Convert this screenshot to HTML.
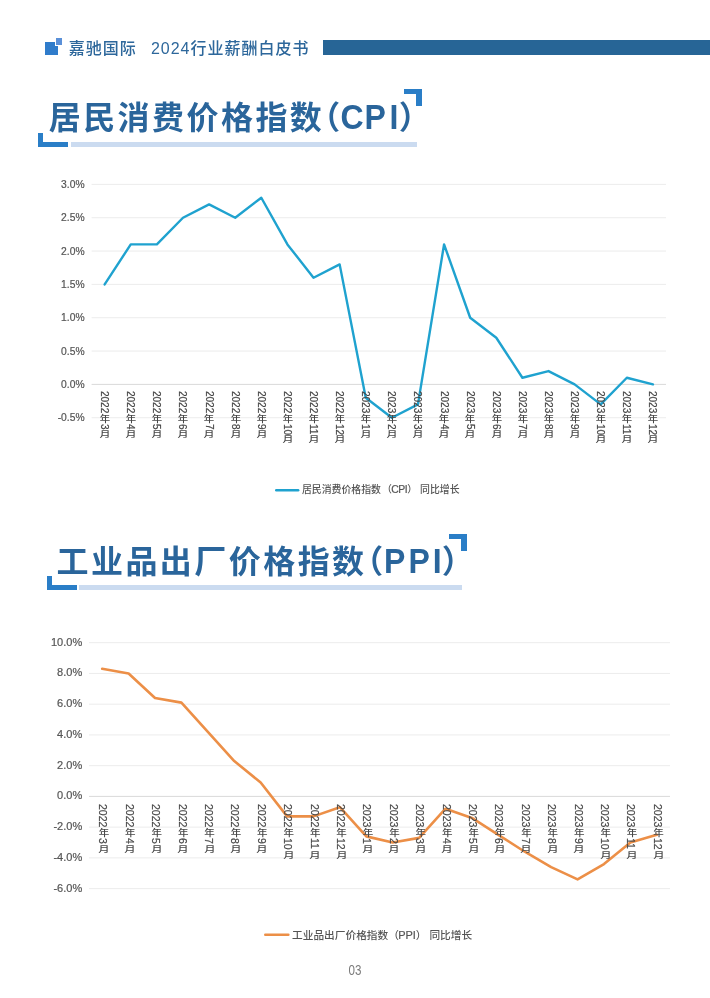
<!DOCTYPE html>
<html lang="zh-CN">
<head>
<meta charset="utf-8">
<title>嘉驰国际 2024行业薪酬白皮书</title>
<style>
*{margin:0;padding:0;box-sizing:border-box}
html,body{width:710px;height:998px;background:#fff;overflow:hidden}
body{position:relative;font-family:"Liberation Sans","Noto Sans CJK SC",sans-serif;color:#595959}
.abs{position:absolute}
.hdr-txt{left:68.7px;top:38.6px;height:20px;line-height:20px;font-size:16px;letter-spacing:1px;word-spacing:-0.7px;color:#2d679b;white-space:pre;font-weight:500}
.hdr-bar{left:323px;top:40px;width:387px;height:15.4px;background:#276596}
.ico-a{left:45px;top:41.5px;width:12.5px;height:13px;background:#2f7ccb}
.ico-b{left:54.5px;top:37.5px;width:7.5px;height:8px;background:#5a90d8;border-left:1px solid #fff;border-bottom:1px solid #fff}
.title{height:44px;line-height:44px;font-size:32px;font-weight:700;color:#2a659b;white-space:nowrap;}
.pp{font-feature-settings:"halt"}
.lt{display:inline-block;transform-origin:50% 77%}
.ul{height:4.7px;background:#cbdbf0}
.bk{background:#2a7ec7}
svg{position:absolute;left:0;top:0}
svg text{font-family:"Liberation Sans","Noto Sans CJK SC",sans-serif}
.vl{position:absolute;width:0;height:0;white-space:nowrap;color:#474747}
.dg{position:absolute;height:12px;line-height:12px;transform-origin:0 0;transform:rotate(90deg);-webkit-text-stroke:0.2px #474747}
.cj{position:absolute;width:12px;height:12px;line-height:12px;text-align:center;font-weight:500}
.lg{white-space:pre;color:#555;height:14px;line-height:14px;font-weight:500;word-spacing:-1px}
.ll{font-size:10.4px;letter-spacing:-0.7px;font-weight:400;-webkit-text-stroke:0.2px #555;margin-left:-0.6px}
.pg{left:339.8px;width:30px;top:962.7px;height:16px;line-height:16px;text-align:center;font-size:13.8px;color:#7a7a7a;transform:scaleX(0.84)}
</style>
</head>
<body>
<!-- header -->
<div class="abs ico-a"></div>
<div class="abs ico-b"></div>
<div class="abs hdr-txt">嘉驰国际   2024行业薪酬白皮书</div>
<div class="abs hdr-bar"></div>

<!-- title 1 -->
<div class="abs title" style="left:48.7px;top:95.8px;letter-spacing:2.45px;font-size:32px">居民消费价格指数<span class="pp" style="margin-left:0px">（</span><span class="lt" style="margin-left:-2.3px;transform:scaleY(1.07)">C</span><span class="lt" style="margin-left:-1.5px;transform:scaleY(1.07)">P</span><span class="lt" style="margin-left:1.3px;transform:scaleY(1.07)">I</span><span class="pp" style="margin-left:-2.2px">）</span></div>
<div class="abs bk" style="left:38.1px;top:133px;width:5.2px;height:13.7px"></div>
<div class="abs bk" style="left:38.1px;top:142px;width:29.6px;height:4.7px"></div>
<div class="abs ul" style="left:70.8px;top:142px;width:346px"></div>
<div class="abs bk" style="left:404.3px;top:89px;width:17.7px;height:5.3px"></div>
<div class="abs bk" style="left:415.8px;top:89px;width:6.2px;height:17.3px"></div>

<!-- title 2 -->
<div class="abs title" style="left:56.5px;top:540.4px;letter-spacing:2.45px;font-size:32px">工业品出厂价格指数<span class="pp" style="margin-left:0.6px">（</span><span class="lt" style="margin-left:-1.5px;transform:scaleY(1.07)">P</span><span class="lt" style="margin-left:0.6px;transform:scaleY(1.07)">P</span><span class="lt" style="margin-left:0.4px;transform:scaleY(1.07)">I</span><span class="pp" style="margin-left:-2.4px">）</span></div>
<div class="abs bk" style="left:46.9px;top:576px;width:4.9px;height:13.8px"></div>
<div class="abs bk" style="left:46.9px;top:585.2px;width:30.2px;height:4.6px"></div>
<div class="abs ul" style="left:79.3px;top:585.2px;width:382.4px;height:4.6px"></div>
<div class="abs bk" style="left:449.4px;top:533.9px;width:17.8px;height:5.3px"></div>
<div class="abs bk" style="left:461.2px;top:533.9px;width:6px;height:17.3px"></div>

<!-- charts -->
<svg width="710" height="998" viewBox="0 0 710 998">
<g id="chart-cpi">
<line x1="91.60" y1="184.39" x2="666.00" y2="184.39" stroke="#ececec" stroke-width="1"/>
<line x1="91.60" y1="217.72" x2="666.00" y2="217.72" stroke="#ececec" stroke-width="1"/>
<line x1="91.60" y1="251.06" x2="666.00" y2="251.06" stroke="#ececec" stroke-width="1"/>
<line x1="91.60" y1="284.39" x2="666.00" y2="284.39" stroke="#ececec" stroke-width="1"/>
<line x1="91.60" y1="317.73" x2="666.00" y2="317.73" stroke="#ececec" stroke-width="1"/>
<line x1="91.60" y1="351.06" x2="666.00" y2="351.06" stroke="#ececec" stroke-width="1"/>
<line x1="91.60" y1="384.40" x2="666.00" y2="384.40" stroke="#d9d9d9" stroke-width="1"/>
<line x1="91.60" y1="417.73" x2="666.00" y2="417.73" stroke="#ececec" stroke-width="1"/>
<text x="84.60" y="188.05" text-anchor="end" font-size="10.3" fill="#555" stroke="#555" stroke-width="0.2">3.0%</text>
<text x="84.60" y="221.38" text-anchor="end" font-size="10.3" fill="#555" stroke="#555" stroke-width="0.2">2.5%</text>
<text x="84.60" y="254.72" text-anchor="end" font-size="10.3" fill="#555" stroke="#555" stroke-width="0.2">2.0%</text>
<text x="84.60" y="288.05" text-anchor="end" font-size="10.3" fill="#555" stroke="#555" stroke-width="0.2">1.5%</text>
<text x="84.60" y="321.39" text-anchor="end" font-size="10.3" fill="#555" stroke="#555" stroke-width="0.2">1.0%</text>
<text x="84.60" y="354.72" text-anchor="end" font-size="10.3" fill="#555" stroke="#555" stroke-width="0.2">0.5%</text>
<text x="84.60" y="388.06" text-anchor="end" font-size="10.3" fill="#555" stroke="#555" stroke-width="0.2">0.0%</text>
<text x="84.60" y="421.39" text-anchor="end" font-size="10.3" fill="#555" stroke="#555" stroke-width="0.2">-0.5%</text>
<polyline points="104.65,284.39 130.76,244.39 156.87,244.39 182.98,217.72 209.09,204.39 235.20,217.72 261.31,197.72 287.42,244.39 313.53,277.73 339.64,264.39 365.75,397.73 391.85,417.73 417.96,404.40 444.07,244.39 470.18,317.73 496.29,337.73 522.40,377.73 548.51,371.07 574.62,384.40 600.73,404.40 626.84,377.73 652.95,384.40" fill="none" stroke="#1fa2cf" stroke-width="2.4" stroke-linejoin="round" stroke-linecap="round"/>
<line x1="276.2" y1="490.2" x2="298.2" y2="490.2" stroke="#1fa2cf" stroke-width="2.4" stroke-linecap="round"/>
</g>
<g id="chart-ppi">
<line x1="89.00" y1="642.70" x2="670.00" y2="642.70" stroke="#ececec" stroke-width="1"/>
<line x1="89.00" y1="673.44" x2="670.00" y2="673.44" stroke="#ececec" stroke-width="1"/>
<line x1="89.00" y1="704.18" x2="670.00" y2="704.18" stroke="#ececec" stroke-width="1"/>
<line x1="89.00" y1="734.92" x2="670.00" y2="734.92" stroke="#ececec" stroke-width="1"/>
<line x1="89.00" y1="765.66" x2="670.00" y2="765.66" stroke="#ececec" stroke-width="1"/>
<line x1="89.00" y1="796.40" x2="670.00" y2="796.40" stroke="#d9d9d9" stroke-width="1"/>
<line x1="89.00" y1="827.14" x2="670.00" y2="827.14" stroke="#ececec" stroke-width="1"/>
<line x1="89.00" y1="857.88" x2="670.00" y2="857.88" stroke="#ececec" stroke-width="1"/>
<line x1="89.00" y1="888.62" x2="670.00" y2="888.62" stroke="#ececec" stroke-width="1"/>
<text x="82.20" y="645.71" text-anchor="end" font-size="11" fill="#555" stroke="#555" stroke-width="0.2">10.0%</text>
<text x="82.20" y="676.44" text-anchor="end" font-size="11" fill="#555" stroke="#555" stroke-width="0.2">8.0%</text>
<text x="82.20" y="707.18" text-anchor="end" font-size="11" fill="#555" stroke="#555" stroke-width="0.2">6.0%</text>
<text x="82.20" y="737.92" text-anchor="end" font-size="11" fill="#555" stroke="#555" stroke-width="0.2">4.0%</text>
<text x="82.20" y="768.66" text-anchor="end" font-size="11" fill="#555" stroke="#555" stroke-width="0.2">2.0%</text>
<text x="82.20" y="799.40" text-anchor="end" font-size="11" fill="#555" stroke="#555" stroke-width="0.2">0.0%</text>
<text x="82.20" y="830.14" text-anchor="end" font-size="11" fill="#555" stroke="#555" stroke-width="0.2">-2.0%</text>
<text x="82.20" y="860.88" text-anchor="end" font-size="11" fill="#555" stroke="#555" stroke-width="0.2">-4.0%</text>
<text x="82.20" y="891.62" text-anchor="end" font-size="11" fill="#555" stroke="#555" stroke-width="0.2">-6.0%</text>
<polyline points="102.20,668.83 128.61,673.44 155.02,698.03 181.43,702.64 207.84,731.85 234.25,761.05 260.66,782.57 287.07,816.38 313.48,816.38 339.89,807.16 366.30,836.36 392.70,842.51 419.11,837.90 445.52,808.70 471.93,817.92 498.34,834.82 524.75,851.73 551.16,867.10 577.57,879.40 603.98,864.03 630.39,842.51 656.80,834.82" fill="none" stroke="#ec8f47" stroke-width="2.6" stroke-linejoin="round" stroke-linecap="round"/>
<line x1="265.2" y1="934.8" x2="288.4" y2="934.8" stroke="#ec8f47" stroke-width="2.4" stroke-linecap="round"/>
</g>
</svg>
<div class="vl c1" style="left:104.65px;top:390.60px;font-size:10px"><span class="dg" style="left:5.50px;top:0">2022</span><span class="cj" style="left:-5.70px;top:22.21px;transform:scale(1.04,0.9)">年</span><span class="dg" style="left:5.50px;top:32.95px">3</span><span class="cj" style="left:-5.70px;top:38.26px;transform:scale(1.1,0.76)">月</span></div>
<div class="vl c1" style="left:130.76px;top:390.60px;font-size:10px"><span class="dg" style="left:5.50px;top:0">2022</span><span class="cj" style="left:-5.70px;top:22.21px;transform:scale(1.04,0.9)">年</span><span class="dg" style="left:5.50px;top:32.95px">4</span><span class="cj" style="left:-5.70px;top:38.26px;transform:scale(1.1,0.76)">月</span></div>
<div class="vl c1" style="left:156.87px;top:390.60px;font-size:10px"><span class="dg" style="left:5.50px;top:0">2022</span><span class="cj" style="left:-5.70px;top:22.21px;transform:scale(1.04,0.9)">年</span><span class="dg" style="left:5.50px;top:32.95px">5</span><span class="cj" style="left:-5.70px;top:38.26px;transform:scale(1.1,0.76)">月</span></div>
<div class="vl c1" style="left:182.98px;top:390.60px;font-size:10px"><span class="dg" style="left:5.50px;top:0">2022</span><span class="cj" style="left:-5.70px;top:22.21px;transform:scale(1.04,0.9)">年</span><span class="dg" style="left:5.50px;top:32.95px">6</span><span class="cj" style="left:-5.70px;top:38.26px;transform:scale(1.1,0.76)">月</span></div>
<div class="vl c1" style="left:209.09px;top:390.60px;font-size:10px"><span class="dg" style="left:5.50px;top:0">2022</span><span class="cj" style="left:-5.70px;top:22.21px;transform:scale(1.04,0.9)">年</span><span class="dg" style="left:5.50px;top:32.95px">7</span><span class="cj" style="left:-5.70px;top:38.26px;transform:scale(1.1,0.76)">月</span></div>
<div class="vl c1" style="left:235.20px;top:390.60px;font-size:10px"><span class="dg" style="left:5.50px;top:0">2022</span><span class="cj" style="left:-5.70px;top:22.21px;transform:scale(1.04,0.9)">年</span><span class="dg" style="left:5.50px;top:32.95px">8</span><span class="cj" style="left:-5.70px;top:38.26px;transform:scale(1.1,0.76)">月</span></div>
<div class="vl c1" style="left:261.31px;top:390.60px;font-size:10px"><span class="dg" style="left:5.50px;top:0">2022</span><span class="cj" style="left:-5.70px;top:22.21px;transform:scale(1.04,0.9)">年</span><span class="dg" style="left:5.50px;top:32.95px">9</span><span class="cj" style="left:-5.70px;top:38.26px;transform:scale(1.1,0.76)">月</span></div>
<div class="vl c1" style="left:287.42px;top:390.60px;font-size:10px"><span class="dg" style="left:5.50px;top:0">2022</span><span class="cj" style="left:-5.70px;top:22.21px;transform:scale(1.04,0.9)">年</span><span class="dg" style="left:5.50px;top:32.95px">10</span><span class="cj" style="left:-5.70px;top:43.82px;transform:scale(1.1,0.76)">月</span></div>
<div class="vl c1" style="left:313.53px;top:390.60px;font-size:10px"><span class="dg" style="left:5.50px;top:0">2022</span><span class="cj" style="left:-5.70px;top:22.21px;transform:scale(1.04,0.9)">年</span><span class="dg" style="left:5.50px;top:32.95px">11</span><span class="cj" style="left:-5.70px;top:43.82px;transform:scale(1.1,0.76)">月</span></div>
<div class="vl c1" style="left:339.64px;top:390.60px;font-size:10px"><span class="dg" style="left:5.50px;top:0">2022</span><span class="cj" style="left:-5.70px;top:22.21px;transform:scale(1.04,0.9)">年</span><span class="dg" style="left:5.50px;top:32.95px">12</span><span class="cj" style="left:-5.70px;top:43.82px;transform:scale(1.1,0.76)">月</span></div>
<div class="vl c1" style="left:365.75px;top:390.60px;font-size:10px"><span class="dg" style="left:5.50px;top:0">2023</span><span class="cj" style="left:-5.70px;top:22.21px;transform:scale(1.04,0.9)">年</span><span class="dg" style="left:5.50px;top:32.95px">1</span><span class="cj" style="left:-5.70px;top:38.26px;transform:scale(1.1,0.76)">月</span></div>
<div class="vl c1" style="left:391.85px;top:390.60px;font-size:10px"><span class="dg" style="left:5.50px;top:0">2023</span><span class="cj" style="left:-5.70px;top:22.21px;transform:scale(1.04,0.9)">年</span><span class="dg" style="left:5.50px;top:32.95px">2</span><span class="cj" style="left:-5.70px;top:38.26px;transform:scale(1.1,0.76)">月</span></div>
<div class="vl c1" style="left:417.96px;top:390.60px;font-size:10px"><span class="dg" style="left:5.50px;top:0">2023</span><span class="cj" style="left:-5.70px;top:22.21px;transform:scale(1.04,0.9)">年</span><span class="dg" style="left:5.50px;top:32.95px">3</span><span class="cj" style="left:-5.70px;top:38.26px;transform:scale(1.1,0.76)">月</span></div>
<div class="vl c1" style="left:444.07px;top:390.60px;font-size:10px"><span class="dg" style="left:5.50px;top:0">2023</span><span class="cj" style="left:-5.70px;top:22.21px;transform:scale(1.04,0.9)">年</span><span class="dg" style="left:5.50px;top:32.95px">4</span><span class="cj" style="left:-5.70px;top:38.26px;transform:scale(1.1,0.76)">月</span></div>
<div class="vl c1" style="left:470.18px;top:390.60px;font-size:10px"><span class="dg" style="left:5.50px;top:0">2023</span><span class="cj" style="left:-5.70px;top:22.21px;transform:scale(1.04,0.9)">年</span><span class="dg" style="left:5.50px;top:32.95px">5</span><span class="cj" style="left:-5.70px;top:38.26px;transform:scale(1.1,0.76)">月</span></div>
<div class="vl c1" style="left:496.29px;top:390.60px;font-size:10px"><span class="dg" style="left:5.50px;top:0">2023</span><span class="cj" style="left:-5.70px;top:22.21px;transform:scale(1.04,0.9)">年</span><span class="dg" style="left:5.50px;top:32.95px">6</span><span class="cj" style="left:-5.70px;top:38.26px;transform:scale(1.1,0.76)">月</span></div>
<div class="vl c1" style="left:522.40px;top:390.60px;font-size:10px"><span class="dg" style="left:5.50px;top:0">2023</span><span class="cj" style="left:-5.70px;top:22.21px;transform:scale(1.04,0.9)">年</span><span class="dg" style="left:5.50px;top:32.95px">7</span><span class="cj" style="left:-5.70px;top:38.26px;transform:scale(1.1,0.76)">月</span></div>
<div class="vl c1" style="left:548.51px;top:390.60px;font-size:10px"><span class="dg" style="left:5.50px;top:0">2023</span><span class="cj" style="left:-5.70px;top:22.21px;transform:scale(1.04,0.9)">年</span><span class="dg" style="left:5.50px;top:32.95px">8</span><span class="cj" style="left:-5.70px;top:38.26px;transform:scale(1.1,0.76)">月</span></div>
<div class="vl c1" style="left:574.62px;top:390.60px;font-size:10px"><span class="dg" style="left:5.50px;top:0">2023</span><span class="cj" style="left:-5.70px;top:22.21px;transform:scale(1.04,0.9)">年</span><span class="dg" style="left:5.50px;top:32.95px">9</span><span class="cj" style="left:-5.70px;top:38.26px;transform:scale(1.1,0.76)">月</span></div>
<div class="vl c1" style="left:600.73px;top:390.60px;font-size:10px"><span class="dg" style="left:5.50px;top:0">2023</span><span class="cj" style="left:-5.70px;top:22.21px;transform:scale(1.04,0.9)">年</span><span class="dg" style="left:5.50px;top:32.95px">10</span><span class="cj" style="left:-5.70px;top:43.82px;transform:scale(1.1,0.76)">月</span></div>
<div class="vl c1" style="left:626.84px;top:390.60px;font-size:10px"><span class="dg" style="left:5.50px;top:0">2023</span><span class="cj" style="left:-5.70px;top:22.21px;transform:scale(1.04,0.9)">年</span><span class="dg" style="left:5.50px;top:32.95px">11</span><span class="cj" style="left:-5.70px;top:43.82px;transform:scale(1.1,0.76)">月</span></div>
<div class="vl c1" style="left:652.95px;top:390.60px;font-size:10px"><span class="dg" style="left:5.50px;top:0">2023</span><span class="cj" style="left:-5.70px;top:22.21px;transform:scale(1.04,0.9)">年</span><span class="dg" style="left:5.50px;top:32.95px">12</span><span class="cj" style="left:-5.70px;top:43.82px;transform:scale(1.1,0.76)">月</span></div>
<div class="vl c2" style="left:102.20px;top:803.70px;font-size:10.5px"><span class="dg" style="left:7.10px;top:0">2022</span><span class="cj" style="left:-4.30px;top:22.96px;transform:scale(1.0,0.82)">年</span><span class="dg" style="left:7.10px;top:33.86px">3</span><span class="cj" style="left:-4.30px;top:39.48px;transform:scale(1.08,0.8)">月</span></div>
<div class="vl c2" style="left:128.61px;top:803.70px;font-size:10.5px"><span class="dg" style="left:7.10px;top:0">2022</span><span class="cj" style="left:-4.30px;top:22.96px;transform:scale(1.0,0.82)">年</span><span class="dg" style="left:7.10px;top:33.86px">4</span><span class="cj" style="left:-4.30px;top:39.48px;transform:scale(1.08,0.8)">月</span></div>
<div class="vl c2" style="left:155.02px;top:803.70px;font-size:10.5px"><span class="dg" style="left:7.10px;top:0">2022</span><span class="cj" style="left:-4.30px;top:22.96px;transform:scale(1.0,0.82)">年</span><span class="dg" style="left:7.10px;top:33.86px">5</span><span class="cj" style="left:-4.30px;top:39.48px;transform:scale(1.08,0.8)">月</span></div>
<div class="vl c2" style="left:181.43px;top:803.70px;font-size:10.5px"><span class="dg" style="left:7.10px;top:0">2022</span><span class="cj" style="left:-4.30px;top:22.96px;transform:scale(1.0,0.82)">年</span><span class="dg" style="left:7.10px;top:33.86px">6</span><span class="cj" style="left:-4.30px;top:39.48px;transform:scale(1.08,0.8)">月</span></div>
<div class="vl c2" style="left:207.84px;top:803.70px;font-size:10.5px"><span class="dg" style="left:7.10px;top:0">2022</span><span class="cj" style="left:-4.30px;top:22.96px;transform:scale(1.0,0.82)">年</span><span class="dg" style="left:7.10px;top:33.86px">7</span><span class="cj" style="left:-4.30px;top:39.48px;transform:scale(1.08,0.8)">月</span></div>
<div class="vl c2" style="left:234.25px;top:803.70px;font-size:10.5px"><span class="dg" style="left:7.10px;top:0">2022</span><span class="cj" style="left:-4.30px;top:22.96px;transform:scale(1.0,0.82)">年</span><span class="dg" style="left:7.10px;top:33.86px">8</span><span class="cj" style="left:-4.30px;top:39.48px;transform:scale(1.08,0.8)">月</span></div>
<div class="vl c2" style="left:260.66px;top:803.70px;font-size:10.5px"><span class="dg" style="left:7.10px;top:0">2022</span><span class="cj" style="left:-4.30px;top:22.96px;transform:scale(1.0,0.82)">年</span><span class="dg" style="left:7.10px;top:33.86px">9</span><span class="cj" style="left:-4.30px;top:39.48px;transform:scale(1.08,0.8)">月</span></div>
<div class="vl c2" style="left:287.07px;top:803.70px;font-size:10.5px"><span class="dg" style="left:7.10px;top:0">2022</span><span class="cj" style="left:-4.30px;top:22.96px;transform:scale(1.0,0.82)">年</span><span class="dg" style="left:7.10px;top:33.86px">10</span><span class="cj" style="left:-4.30px;top:45.32px;transform:scale(1.08,0.8)">月</span></div>
<div class="vl c2" style="left:313.48px;top:803.70px;font-size:10.5px"><span class="dg" style="left:7.10px;top:0">2022</span><span class="cj" style="left:-4.30px;top:22.96px;transform:scale(1.0,0.82)">年</span><span class="dg" style="left:7.10px;top:33.86px">11</span><span class="cj" style="left:-4.30px;top:45.32px;transform:scale(1.08,0.8)">月</span></div>
<div class="vl c2" style="left:339.89px;top:803.70px;font-size:10.5px"><span class="dg" style="left:7.10px;top:0">2022</span><span class="cj" style="left:-4.30px;top:22.96px;transform:scale(1.0,0.82)">年</span><span class="dg" style="left:7.10px;top:33.86px">12</span><span class="cj" style="left:-4.30px;top:45.32px;transform:scale(1.08,0.8)">月</span></div>
<div class="vl c2" style="left:366.30px;top:803.70px;font-size:10.5px"><span class="dg" style="left:7.10px;top:0">2023</span><span class="cj" style="left:-4.30px;top:22.96px;transform:scale(1.0,0.82)">年</span><span class="dg" style="left:7.10px;top:33.86px">1</span><span class="cj" style="left:-4.30px;top:39.48px;transform:scale(1.08,0.8)">月</span></div>
<div class="vl c2" style="left:392.70px;top:803.70px;font-size:10.5px"><span class="dg" style="left:7.10px;top:0">2023</span><span class="cj" style="left:-4.30px;top:22.96px;transform:scale(1.0,0.82)">年</span><span class="dg" style="left:7.10px;top:33.86px">2</span><span class="cj" style="left:-4.30px;top:39.48px;transform:scale(1.08,0.8)">月</span></div>
<div class="vl c2" style="left:419.11px;top:803.70px;font-size:10.5px"><span class="dg" style="left:7.10px;top:0">2023</span><span class="cj" style="left:-4.30px;top:22.96px;transform:scale(1.0,0.82)">年</span><span class="dg" style="left:7.10px;top:33.86px">3</span><span class="cj" style="left:-4.30px;top:39.48px;transform:scale(1.08,0.8)">月</span></div>
<div class="vl c2" style="left:445.52px;top:803.70px;font-size:10.5px"><span class="dg" style="left:7.10px;top:0">2023</span><span class="cj" style="left:-4.30px;top:22.96px;transform:scale(1.0,0.82)">年</span><span class="dg" style="left:7.10px;top:33.86px">4</span><span class="cj" style="left:-4.30px;top:39.48px;transform:scale(1.08,0.8)">月</span></div>
<div class="vl c2" style="left:471.93px;top:803.70px;font-size:10.5px"><span class="dg" style="left:7.10px;top:0">2023</span><span class="cj" style="left:-4.30px;top:22.96px;transform:scale(1.0,0.82)">年</span><span class="dg" style="left:7.10px;top:33.86px">5</span><span class="cj" style="left:-4.30px;top:39.48px;transform:scale(1.08,0.8)">月</span></div>
<div class="vl c2" style="left:498.34px;top:803.70px;font-size:10.5px"><span class="dg" style="left:7.10px;top:0">2023</span><span class="cj" style="left:-4.30px;top:22.96px;transform:scale(1.0,0.82)">年</span><span class="dg" style="left:7.10px;top:33.86px">6</span><span class="cj" style="left:-4.30px;top:39.48px;transform:scale(1.08,0.8)">月</span></div>
<div class="vl c2" style="left:524.75px;top:803.70px;font-size:10.5px"><span class="dg" style="left:7.10px;top:0">2023</span><span class="cj" style="left:-4.30px;top:22.96px;transform:scale(1.0,0.82)">年</span><span class="dg" style="left:7.10px;top:33.86px">7</span><span class="cj" style="left:-4.30px;top:39.48px;transform:scale(1.08,0.8)">月</span></div>
<div class="vl c2" style="left:551.16px;top:803.70px;font-size:10.5px"><span class="dg" style="left:7.10px;top:0">2023</span><span class="cj" style="left:-4.30px;top:22.96px;transform:scale(1.0,0.82)">年</span><span class="dg" style="left:7.10px;top:33.86px">8</span><span class="cj" style="left:-4.30px;top:39.48px;transform:scale(1.08,0.8)">月</span></div>
<div class="vl c2" style="left:577.57px;top:803.70px;font-size:10.5px"><span class="dg" style="left:7.10px;top:0">2023</span><span class="cj" style="left:-4.30px;top:22.96px;transform:scale(1.0,0.82)">年</span><span class="dg" style="left:7.10px;top:33.86px">9</span><span class="cj" style="left:-4.30px;top:39.48px;transform:scale(1.08,0.8)">月</span></div>
<div class="vl c2" style="left:603.98px;top:803.70px;font-size:10.5px"><span class="dg" style="left:7.10px;top:0">2023</span><span class="cj" style="left:-4.30px;top:22.96px;transform:scale(1.0,0.82)">年</span><span class="dg" style="left:7.10px;top:33.86px">10</span><span class="cj" style="left:-4.30px;top:45.32px;transform:scale(1.08,0.8)">月</span></div>
<div class="vl c2" style="left:630.39px;top:803.70px;font-size:10.5px"><span class="dg" style="left:7.10px;top:0">2023</span><span class="cj" style="left:-4.30px;top:22.96px;transform:scale(1.0,0.82)">年</span><span class="dg" style="left:7.10px;top:33.86px">11</span><span class="cj" style="left:-4.30px;top:45.32px;transform:scale(1.08,0.8)">月</span></div>
<div class="vl c2" style="left:656.80px;top:803.70px;font-size:10.5px"><span class="dg" style="left:7.10px;top:0">2023</span><span class="cj" style="left:-4.30px;top:22.96px;transform:scale(1.0,0.82)">年</span><span class="dg" style="left:7.10px;top:33.86px">12</span><span class="cj" style="left:-4.30px;top:45.32px;transform:scale(1.08,0.8)">月</span></div>
<div class="abs lg" style="left:301.9px;top:483.2px;font-size:9.9px;word-spacing:0.3px">居民消费价格指数<span style="margin-left:1px">（</span><span class="ll" style="letter-spacing:-0.45px">CPI</span>） 同比增长</div>
<div class="abs lg" style="left:292px;top:927.6px;font-size:10.7px;word-spacing:0">工业品出厂价格指数（<span class="ll" style="letter-spacing:-0.1px;font-size:11px">PPI</span>） 同比增长</div>
<div class="abs pg">03</div>
</body>
</html>
